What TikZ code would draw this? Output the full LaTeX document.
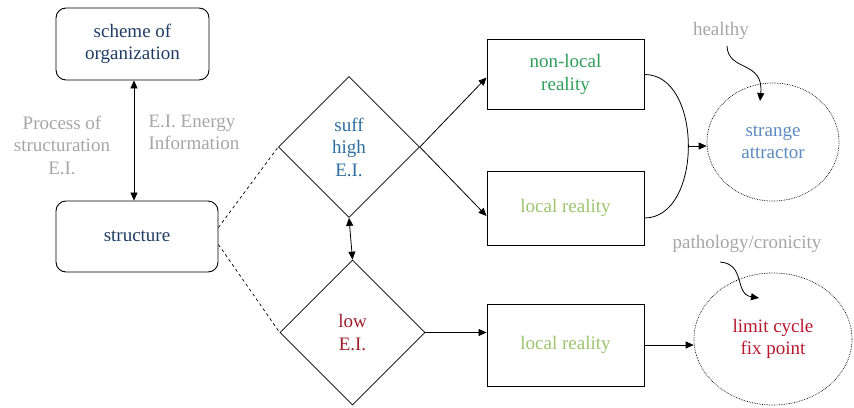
\documentclass[tikz,border=0pt]{standalone}
\usepackage{fontspec}
\setmainfont{Liberation Serif}
\newfontfamily\diagfont{Liberation Serif}
\usetikzlibrary{shapes.geometric,arrows.meta,calc}
\definecolor{dkblue}{HTML}{1F3C64}
\definecolor{suffblue}{HTML}{2E6E9E}
\definecolor{lowred}{HTML}{9E1F2A}
\definecolor{nlgreen}{HTML}{2E9E5A}
\definecolor{lgreen}{HTML}{9CC46E}
\definecolor{attblue}{HTML}{5A8AC0}
\definecolor{limred}{HTML}{B81830}
\definecolor{lblgray}{HTML}{A6A6A6}
\begin{document}
\begin{tikzpicture}[x=1pt,y=-1pt,
  every node/.style={font=\diagfont\fontsize{19}{22.5}\selectfont, align=center},
  rbox/.style={draw, line width=0.9pt, rounded corners=10pt, minimum width=#1},
  sbox/.style={draw, line width=0.9pt, minimum width=157pt},
  dia/.style={draw, diamond, line width=0.7pt, inner sep=0pt, minimum width=#1, minimum height=#1},
  ell/.style={draw, ellipse, densely dotted, line width=0.7pt, inner sep=0pt},
  lbl/.style={text=lblgray},
  arr/.style={line width=0.8pt, -{Triangle[length=8pt,width=7pt]}},
  darr/.style={line width=0.8pt, {Triangle[length=8pt,width=7pt]}-{Triangle[length=8pt,width=7pt]}},
  dsh/.style={dashed, line width=0.7pt}]
\useasboundingbox (0,0) rectangle (854,407);
% boxes
\node[rbox=153pt, minimum height=72pt, text=dkblue] (scheme) at (132.5,44) {scheme of\\organization};
\node[rbox=162pt, minimum height=71pt, text=dkblue] (structure) at (137,236.5) {structure};
\node[dia=141pt, text=suffblue] (top) at (349,147) {suff\\high\\E.I.};
\node[dia=145pt, text=lowred] (low) at (352.5,332.5) {low\\E.I.};
\node[sbox, minimum height=70pt, text=nlgreen] (nonlocal) at (565.5,74.5) {non-local\\reality};
\node[sbox, minimum height=74pt, text=lgreen] (local1) at (565.5,208) {local reality};
\node[sbox, minimum height=82pt, text=lgreen] (local2) at (565.5,345) {local reality};
\node[ell, minimum width=132pt, minimum height=118pt, text=attblue] (strange) at (773,142) {strange\\attractor};
\node[ell, minimum width=158pt, minimum height=132pt, text=limred] (limit) at (773,339) {limit cycle\\fix point};
% labels
\node[lbl] (proc) at (62,145) {Process of\\structuration\\E.I.};
\node[lbl, align=left, anchor=west] (ei) at (145,132.5) {E.I. Energy\\Information};
\node[lbl] (healthy) at (721,31) {healthy};
\node[lbl] (patho) at (747,244) {pathology/cronicity};
% connectors
\coordinate (ax) at (134,0);
\draw[darr] (scheme.south -| ax) -- (structure.north -| ax);
\draw[dsh] ($(structure.east)+(0,-9)$) -- (top.west);
\draw[dsh] ($(structure.east)+(0,8)$) -- (low.west);
\draw[darr] (top.south) -- (low.north);
\draw[arr] (top.east) -- ($(nonlocal.west)+(0,3)$);
\draw[arr] (top.east) -- ($(local1.west)+(0,8)$);
\draw[arr] (low.east) -- (low.east -| local2.west);
\coordinate (bmid) at (688,146);
\draw[line width=0.8pt] (nonlocal.east) .. controls (703,74) and (703,218) .. ($(local1.east)+(0,10)$);
\draw[arr] (bmid) -- (bmid -| strange.west);
\draw[arr] (local2.east) -- (local2.east -| limit.west);
\coordinate (hs) at (727,46);
\coordinate (he) at (760,101);
\draw[arr] (hs) .. controls (728,72) and (764,60) .. (he);
\coordinate (ps) at (720,262);
\coordinate (pe) at (759,298);
\draw[arr] (ps) .. controls (746,264) and (734,294) .. (pe);
\end{tikzpicture}
\end{document}
